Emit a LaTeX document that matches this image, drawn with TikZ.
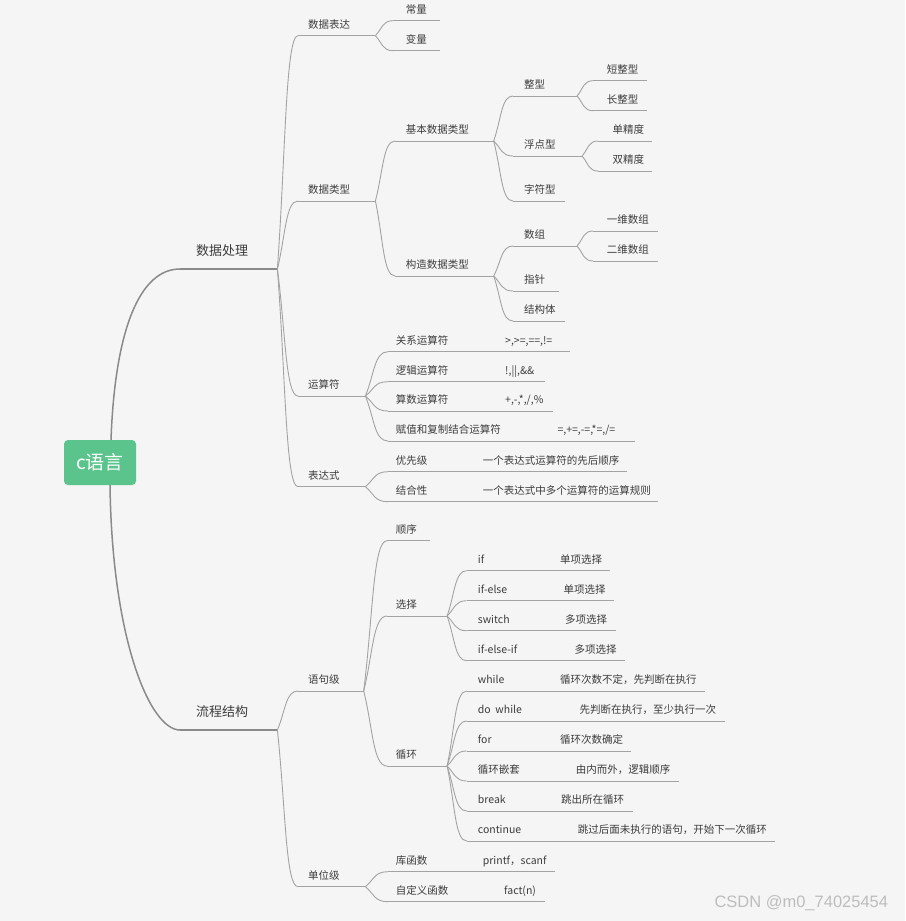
\documentclass[tikz,border=0pt]{standalone}
\usepackage{fontspec}
\setmainfont{Noto Sans CJK SC}
\newfontfamily\wmfont{Liberation Sans}
\usetikzlibrary{calc}
\definecolor{bgc}{HTML}{F5F5F5}
\definecolor{linec}{HTML}{A3A3A3}
\definecolor{mainline}{HTML}{8A8A8A}
\definecolor{textc}{HTML}{3C3C3C}
\definecolor{rootc}{HTML}{5BC48C}
\definecolor{wmc}{HTML}{BDBDBD}
\newcommand\mmbox[3]{\makebox[#1pt][l]{\hspace*{#2pt}#3}}
\newcommand\mmtwo[5]{\makebox[#1pt][l]{\hspace*{#2pt}\makebox[#4pt][l]{#3}#5}}
\begin{document}
\begin{tikzpicture}[x=1pt,y=-1pt,
 base/.style={anchor=south west, inner sep=0pt, text=textc},
 uline/.style={draw=linec, line width=0.9pt},
 mline/.style={draw=mainline, line width=1.5pt},
 nd/.style={base, font=\fontsize{10.5}{12}\selectfont, text height=9pt, text depth=7.3pt,
   append after command={(\tikzlastnode.south west) edge[uline] (\tikzlastnode.south east)}},
 big/.style={base, font=\fontsize{13}{15}\selectfont, text height=11pt, text depth=13pt,
   append after command={(\tikzlastnode.south west) edge[mline] (\tikzlastnode.south east)}},
 conn/.style={uline, to path={let \p1=(\tikztostart), \p2=(\tikztotarget) in
   .. controls ({\x1+0.4*(\x2-\x1)},{0.5*(\y1+\y2)}) and ({\x1+0.4*(\x2-\x1)},{\y2}) .. (\tikztotarget)}},
 rootbox/.style={fill=rootc, rounded corners=4pt, minimum width=72pt, minimum height=45pt,
   inner sep=0pt, text=white, font=\fontsize{19}{21}\selectfont},
 wm/.style={anchor=west, inner sep=0pt, text=wmc, font=\wmfont\fontsize{16.5}{18}\selectfont}
]
\fill[bgc] (0,0) rectangle (905,921);
\useasboundingbox (0,0) rectangle (905,921);

% root
\node[rootbox] (root) at (100,462.5) {c语言};

% level 1
\node[big] (n1) at (180,269) {\mmbox{97}{16}{数据处理}};
\node[big] (n2) at (180,730) {\mmbox{97}{16}{流程结构}};

% level 2
\node[nd] (a1) at (298,35.7) {\mmbox{77}{10}{数据表达}};
\node[nd] (a2) at (298,201) {\mmbox{77}{10}{数据类型}};
\node[nd] (a3) at (298,396) {\mmbox{67}{10}{运算符}};
\node[nd] (a4) at (298,486.7) {\mmbox{67}{10}{表达式}};
\node[nd] (b1) at (298,691) {\mmbox{65.3}{10}{语句级}};
\node[nd] (b2) at (298,886.7) {\mmbox{67}{10}{单位级}};

% level 3
\node[nd] (a11) at (393,20.7) {\mmbox{47}{12.7}{常量}};
\node[nd] (a12) at (393,50.7) {\mmbox{47}{12.7}{变量}};
\node[nd] (a21) at (395,141) {\mmbox{98.3}{10.7}{基本数据类型}};
\node[nd] (a22) at (395,276) {\mmbox{98.3}{10.7}{构造数据类型}};
\node[nd] (a31) at (388,351.7) {\mmtwo{181.3}{7.7}{关系运算符}{109.3}{>,>=,==,!=}};
\node[nd] (a32) at (388,381.7) {\mmtwo{156.3}{7.7}{逻辑运算符}{109.3}{!,||,\&\&}};
\node[nd] (a33) at (388,411) {\mmtwo{164.7}{7.7}{算数运算符}{109.3}{+,-,*,/,\%}};
\node[nd] (a34) at (388,441) {\mmtwo{247}{7.7}{赋值和复制结合运算符}{161.6}{=,+=,-=,*=,/=}};
\node[nd] (a41) at (388,471.7) {\mmtwo{238.7}{7.7}{优先级}{87}{一个表达式运算符的先后顺序}};
\node[nd] (a42) at (388,501.7) {\mmtwo{269.7}{7.7}{结合性}{87}{一个表达式中多个运算符的运算规则}};
\node[nd] (b11) at (387,540.7) {\mmbox{43}{8.7}{顺序}};
\node[nd] (b12) at (387,616) {\mmbox{59.7}{8.7}{选择}};
\node[nd] (b13) at (387,766) {\mmbox{59.7}{8.7}{循环}};
\node[nd] (b21) at (388,871.7) {\mmtwo{167}{7.7}{库函数}{87}{printf，scanf}};
\node[nd] (b22) at (388,901.7) {\mmtwo{156.3}{7.7}{自定义函数}{108.3}{fact(n)}};

% level 4
\node[nd] (t1) at (513,96) {\mmbox{63.7}{11}{整型}};
\node[nd] (t2) at (513,156) {\mmbox{68.7}{11}{浮点型}};
\node[nd] (t3) at (513,201) {\mmbox{51.3}{11}{字符型}};
\node[nd] (t4) at (513,246) {\mmbox{63.7}{11}{数组}};
\node[nd] (t5) at (513,291) {\mmbox{46}{11}{指针}};
\node[nd] (t6) at (513,321) {\mmbox{51.3}{11}{结构体}};
\node[nd] (s1) at (466.7,570.7) {\mmtwo{143.3}{11}{if}{82.3}{单项选择}};
\node[nd] (s2) at (466.7,600.7) {\mmtwo{147.3}{11}{if-else}{85.6}{单项选择}};
\node[nd] (s3) at (466.7,630.7) {\mmtwo{149}{11}{switch}{87.3}{多项选择}};
\node[nd] (s4) at (466.7,660.7) {\mmtwo{158.3}{11}{if-else-if}{96.6}{多项选择}};
\node[nd] (l1) at (466.7,691) {\mmtwo{238.3}{11}{while}{82.3}{循环次数不定，先判断在执行}};
\node[nd] (l2) at (466.7,721) {\mmtwo{257.6}{11}{do\ \ while}{101.6}{先判断在执行，至少执行一次}};
\node[nd] (l3) at (466.7,751) {\mmtwo{164.3}{11}{for}{82.3}{循环次数确定}};
\node[nd] (l4) at (466.7,781) {\mmtwo{211.6}{11}{循环嵌套}{98}{由内而外，逻辑顺序}};
\node[nd] (l5) at (466.7,811) {\mmtwo{166}{11}{break}{83.3}{跳出所在循环}};
\node[nd] (l6) at (466.7,841) {\mmtwo{307.6}{11}{continue}{100}{跳过后面未执行的语句，开始下一次循环}};

% level 5
\node[nd] (u1) at (593,80.7) {\mmbox{53.7}{13.7}{短整型}};
\node[nd] (u2) at (593,110.7) {\mmbox{53.7}{13.7}{长整型}};
\node[nd] (u3) at (598,141) {\mmbox{53.7}{14.3}{单精度}};
\node[nd] (u4) at (598,171) {\mmbox{53.7}{14.3}{双精度}};
\node[nd] (u5) at (593,231) {\mmbox{64.3}{13.7}{一维数组}};
\node[nd] (u6) at (593,261) {\mmbox{64.3}{13.7}{二维数组}};

% root connectors
\draw[mline] ([xshift=11pt]root.north) .. controls +(4,-111) and +(-40,0) .. (n1.south west);
\draw[mline] ([xshift=10pt]root.south) .. controls +(2,154) and +(-30,0) .. (n2.south west);

% tree connectors
\foreach \p/\c in {n1/a1,n1/a2,n1/a3,n1/a4,n2/b1,n2/b2,
  a1/a11,a1/a12,a2/a21,a2/a22,a3/a31,a3/a32,a3/a33,a3/a34,a4/a41,a4/a42,
  b1/b11,b1/b12,b1/b13,b2/b21,b2/b22,
  a21/t1,a21/t2,a21/t3,a22/t4,a22/t5,a22/t6,
  t1/u1,t1/u2,t2/u3,t2/u4,t4/u5,t4/u6,
  b12/s1,b12/s2,b12/s3,b12/s4,
  b13/l1,b13/l2,b13/l3,b13/l4,b13/l5,b13/l6}
  \draw[conn] (\p.south east) to (\c.south west);

% watermark
\node[wm] (mark) at (714.3,903.3) {CSDN @m0\_74025454};
\end{tikzpicture}
\end{document}
